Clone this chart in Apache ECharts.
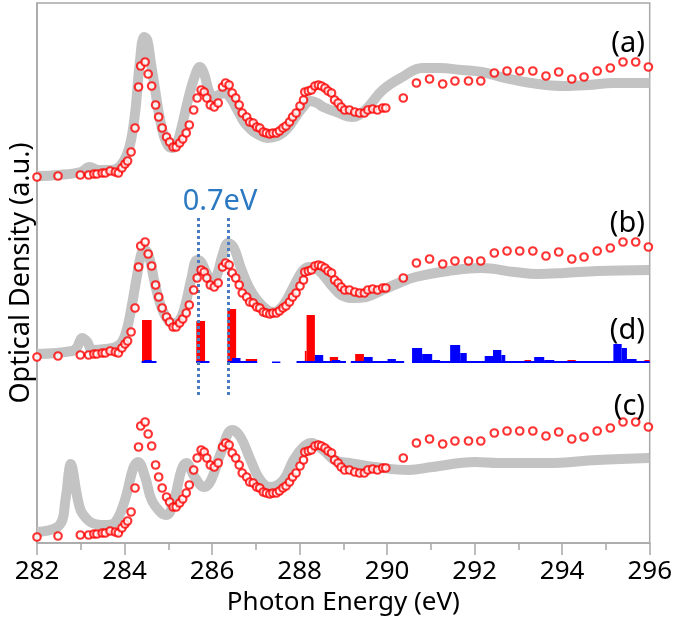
<!DOCTYPE html>
<html>
<head>
<meta charset="utf-8">
<script src="https://cdn.jsdelivr.net/npm/echarts@6/dist/echarts.min.js"></script>
<style>
html,body{margin:0;padding:0;background:#fff;}
#chart{width:675px;height:624px;}
</style>
</head>
<body>
<div id="chart"></div>
<script>
// ---- Experimental spectrum (red circles), panel (a) level ----
const expEnergy = [282.00,282.48,282.99,283.18,283.30,283.37,283.49,283.56,283.67,283.79,283.86,283.94,284.01,284.07,284.15,284.24,284.32,284.37,284.47,284.54,284.62,284.71,284.78,284.86,284.96,285.03,285.11,285.18,285.26,285.33,285.41,285.48,285.58,285.66,285.75,285.82,285.88,285.96,286.05,286.14,286.24,286.31,286.39,286.46,286.54,286.62,286.69,286.79,286.86,286.94,287.02,287.09,287.17,287.24,287.32,287.39,287.47,287.54,287.62,287.69,287.77,287.84,287.92,288.01,288.09,288.12,288.20,288.27,288.35,288.43,288.50,288.58,288.65,288.73,288.80,288.88,288.95,289.03,289.14,289.26,289.37,289.48,289.56,289.67,289.78,289.90,289.97,290.37,290.67,290.97,291.27,291.55,291.86,292.14,292.45,292.74,293.03,293.33,293.63,293.92,294.22,294.50,294.80,295.10,295.39,295.68,295.97];
const expOD = [3.66,3.67,3.68,3.68,3.69,3.69,3.70,3.70,3.72,3.71,3.70,3.75,3.79,3.82,3.91,4.15,4.56,4.77,4.81,4.69,4.57,4.38,4.26,4.15,4.06,4.01,3.96,3.96,4.00,4.04,4.10,4.18,4.33,4.45,4.53,4.51,4.45,4.38,4.36,4.40,4.56,4.60,4.58,4.50,4.45,4.38,4.30,4.26,4.21,4.20,4.16,4.15,4.11,4.10,4.09,4.10,4.10,4.12,4.15,4.17,4.21,4.26,4.30,4.37,4.43,4.51,4.52,4.53,4.57,4.58,4.57,4.55,4.52,4.50,4.43,4.40,4.36,4.33,4.33,4.31,4.30,4.30,4.33,4.34,4.33,4.35,4.35,4.45,4.60,4.64,4.59,4.62,4.62,4.62,4.70,4.72,4.72,4.72,4.67,4.71,4.64,4.66,4.72,4.75,4.81,4.81,4.76];
// vertical offsets of the stacked panels
const offsetA = 0;
const offsetB = -1.80;
const offsetC = -3.60;

// ---- Calculated spectra (grey lines) ----
const calcAEnergy = [282.0,282.5,283.0,283.2,283.4,283.7,283.9,284.05,284.15,284.25,284.35,284.45,284.52,284.6,284.7,284.8,284.9,285.0,285.1,285.2,285.3,285.45,285.6,285.72,285.82,285.92,286.02,286.15,286.28,286.42,286.58,286.73,286.9,287.03,287.26,287.5,287.71,287.94,288.1,288.24,288.4,288.54,288.84,289.2,289.5,289.9,290.35,290.8,291.2,291.7,292.16,292.7,293.29,294.04,294.6,295.17,296.0];
const calcAOD = [3.67,3.68,3.71,3.76,3.73,3.73,3.77,3.88,4.03,4.33,4.81,5.06,5.03,4.81,4.53,4.26,4.07,3.97,3.95,4.00,4.15,4.43,4.66,4.76,4.69,4.53,4.46,4.48,4.50,4.45,4.33,4.21,4.13,4.09,4.05,4.07,4.14,4.28,4.37,4.42,4.40,4.36,4.31,4.26,4.33,4.53,4.66,4.75,4.75,4.73,4.71,4.65,4.60,4.57,4.58,4.60,4.60];

const calcBEnergy = [282.0,282.81,282.92,283.03,283.15,283.26,283.56,283.79,283.94,284.05,284.16,284.28,284.39,284.47,284.58,284.69,284.84,284.99,285.11,285.22,285.37,285.52,285.66,285.75,285.86,286.01,286.13,286.24,286.37,286.50,286.65,286.84,287.03,287.26,287.41,287.63,287.86,288.05,288.20,288.35,288.54,288.76,288.95,289.22,289.52,289.90,290.27,290.65,291.40,292.16,292.91,293.44,294.04,294.80,295.99];
const calcBOD = [1.89,1.92,1.96,2.05,2.01,1.93,1.94,1.96,2.01,2.13,2.36,2.66,2.90,2.93,2.83,2.60,2.36,2.23,2.20,2.21,2.35,2.63,2.83,2.81,2.71,2.60,2.70,2.88,3.00,2.95,2.76,2.56,2.43,2.33,2.31,2.38,2.56,2.71,2.76,2.75,2.68,2.56,2.48,2.45,2.46,2.53,2.60,2.66,2.72,2.75,2.71,2.69,2.70,2.72,2.73];

const calcCEnergy = [282.0,282.43,282.58,282.64,282.69,282.73,282.77,282.81,282.88,282.95,283.03,283.26,283.56,283.79,284.01,284.20,284.31,284.47,284.62,284.84,284.96,285.15,285.30,285.41,285.60,285.82,285.98,286.20,286.46,286.65,286.88,287.10,287.33,287.63,287.86,288.09,288.27,288.54,288.80,289.14,289.90,290.50,291.03,292.01,292.54,293.67,294.80,295.99];
const calcCOD = [0.11,0.15,0.23,0.40,0.56,0.72,0.79,0.75,0.56,0.40,0.30,0.20,0.18,0.21,0.43,0.75,0.81,0.66,0.43,0.30,0.28,0.46,0.73,0.80,0.66,0.56,0.63,0.90,1.13,1.06,0.83,0.63,0.56,0.63,0.83,0.96,1.00,0.93,0.83,0.80,0.75,0.73,0.76,0.81,0.80,0.80,0.83,0.85];

// ---- Transition histogram (d): [start eV, end eV, height] ----
const barBase = 1.80;
const redBars = [[284.40,284.62,0.43],[285.64,285.84,0.42],[286.35,286.55,0.54],[286.77,287.03,0.04],[288.12,288.16,0.12],[288.16,288.35,0.48],[288.69,288.88,0.06],[289.27,289.47,0.09],[289.92,290.01,0.02],[293.14,293.29,0.03],[294.12,294.31,0.03],[295.88,296.00,0.03]];
const blueBars = [[284.39,284.73,0.02],[285.64,285.94,0.02],[286.35,287.03,0.02],[287.37,287.56,0.015],[287.93,289.06,0.02],[289.17,290.39,0.02],[290.57,296.00,0.02],
  [284.45,284.62,0.03],[286.46,286.65,0.05],[288.35,288.54,0.08],[288.74,288.93,0.03],[289.47,289.67,0.06],[290.01,290.20,0.04],[290.57,290.80,0.15],[290.80,291.03,0.09],[291.03,291.21,0.03],[291.44,291.67,0.18],[291.67,291.82,0.10],[292.23,292.42,0.07],[292.42,292.61,0.13],[292.61,292.70,0.08],[293.36,293.59,0.06],[293.59,293.82,0.03],[294.50,294.76,0.02],[295.17,295.36,0.19],[295.36,295.48,0.15],[295.48,295.70,0.04]];

// ---- Annotations ----
const splitLines = [285.68, 286.38];
const splitLineRange = [1.48, 3.25];
const splitLabel = '0.7eV';
const panelLabels = ['(a)', '(b)', '(d)', '(c)'];

function pairs(xs, ys, off) { return xs.map((x, i) => [x, +(ys[i] + off).toFixed(3)]); }

function barRender(color) {
  return function (params, api) {
    const p0 = api.coord([api.value(0), barBase]);
    const p1 = api.coord([api.value(1), barBase + api.value(2)]);
    return { type: 'rect', shape: { x: p0[0], y: p1[1], width: p1[0] - p0[0], height: p0[1] - p1[1] }, style: { fill: color } };
  };
}

const FONT = 'Noto Sans';
const grey = '#c3c3c3';
const lineStyle = { color: grey, width: 10 };
const dotStyle = { color: '#fff', borderColor: '#ff0000', borderWidth: 2.2 };

function label(text, x, y, size, color, align) {
  return { type: 'text', x: x, y: y, z: 10,
    style: { text: text, fontSize: size, fill: color, fontFamily: FONT, align: align, verticalAlign: 'middle' } };
}

const chart = echarts.init(document.getElementById('chart'), null, { renderer: 'canvas' });
chart.setOption({
  animation: false,
  backgroundColor: '#fff',
  textStyle: { fontFamily: FONT },
  grid: { left: 31, right: 25, top: 3, bottom: 81, show: true, borderColor: '#a8a8a8', borderWidth: 1.5 },
  xAxis: {
    type: 'value', min: 282, max: 296, interval: 2,
    name: 'Photon Energy (eV)', nameLocation: 'middle', nameGap: 42,
    nameTextStyle: { fontSize: 26, color: '#000', fontFamily: FONT },
    axisLine: { lineStyle: { color: '#a8a8a8', width: 1.5 } },
    axisTick: { length: 12, lineStyle: { color: '#a8a8a8', width: 1.5 } },
    minorTick: { show: true, splitNumber: 2, length: 7, lineStyle: { color: '#a8a8a8', width: 1.5 } },
    axisLabel: { fontSize: 26, color: '#000', margin: 16, fontFamily: FONT },
    splitLine: { show: false }
  },
  yAxis: {
    type: 'value', min: 0, max: 5.4,
    name: 'Optical Density (a.u.)', nameLocation: 'middle', nameGap: 2,
    nameTextStyle: { fontSize: 27, color: '#000', fontFamily: FONT },
    axisLine: { show: true, lineStyle: { color: '#a8a8a8', width: 1.5 } },
    axisTick: { show: false }, axisLabel: { show: false }, splitLine: { show: false }
  },
  series: [
    { type: 'line', data: pairs(calcAEnergy, calcAOD, 0), smooth: 0.4, symbol: 'none', lineStyle: lineStyle, z: 1 },
    { type: 'line', data: pairs(calcBEnergy, calcBOD, 0), smooth: 0.4, symbol: 'none', lineStyle: lineStyle, z: 1,
      markLine: { silent: true, symbol: 'none', label: { show: false },
        lineStyle: { color: '#4a7cc2', width: 3, type: [3, 3] },
        data: splitLines.map(x => [{ coord: [x, splitLineRange[0]] }, { coord: [x, splitLineRange[1]] }]) } },
    { type: 'line', data: pairs(calcCEnergy, calcCOD, 0), smooth: 0.4, symbol: 'none', lineStyle: lineStyle, z: 1 },
    { type: 'custom', renderItem: barRender('#ff0000'), data: redBars, z: 2 },
    { type: 'custom', renderItem: barRender('#0000ff'), data: blueBars, z: 3 },
    { type: 'scatter', data: pairs(expEnergy, expOD, offsetA), symbol: 'circle', symbolSize: 7.5, itemStyle: dotStyle, z: 5 },
    { type: 'scatter', data: pairs(expEnergy, expOD, offsetB), symbol: 'circle', symbolSize: 7.5, itemStyle: dotStyle, z: 5 },
    { type: 'scatter', data: pairs(expEnergy, expOD, offsetC), symbol: 'circle', symbolSize: 7.5, itemStyle: dotStyle, z: 5 }
  ],
  graphic: [
    label(splitLabel, 220, 202, 29, '#2b79c2', 'center'),
    label(panelLabels[0], 645, 44, 29, '#000', 'right'),
    label(panelLabels[1], 645, 224, 29, '#000', 'right'),
    label(panelLabels[2], 645, 331, 29, '#000', 'right'),
    label(panelLabels[3], 645, 407, 29, '#000', 'right')
  ]
});
</script>
</body>
</html>
